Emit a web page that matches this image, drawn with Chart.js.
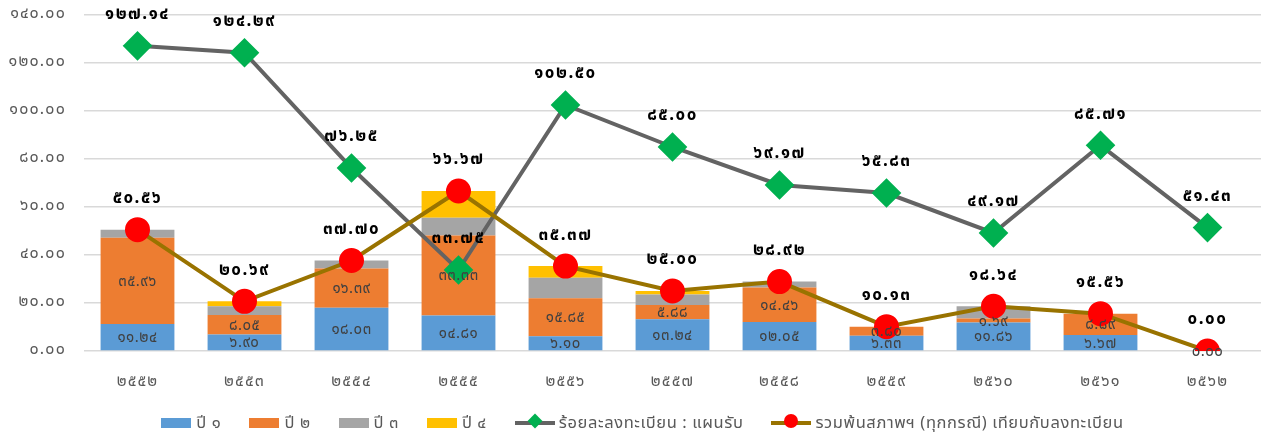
<!DOCTYPE html>
<html>
<head>
<meta charset="utf-8">
<script src="https://cdn.jsdelivr.net/npm/chart.js@4"></script>
<style>
    html, body { margin: 0; padding: 0; background: #ffffff; overflow: hidden; }
    #wrap { position: relative; width: 1261px; height: 437px; }
    #chart { display: block; }
    #legend {
        position: absolute; left: 24px; top: 410px; width: 1237px;
        display: flex; justify-content: center; align-items: center;
        font-family: 'Noto Sans Thai', 'Tahoma', 'DejaVu Sans', sans-serif;
        font-size: 16.5px; letter-spacing: 0.6px; color: #595959;
    }
    .item { display: flex; align-items: center; margin: 0 14px; }
    .box { width: 30px; height: 10px; margin-right: 5px; }
    .line { position: relative; width: 40px; height: 4px; margin-right: 4px; }
    .mark { position: absolute; left: 13px; top: -7px; width: 14px; height: 14px; }
</style>
</head>
<body>
<div id="wrap">
    <canvas id="chart" width="1261" height="437"></canvas>
    <div id="legend"></div>
</div>
<script>
const thaiDigits = ["๐", "๑", "๒", "๓", "๔", "๕", "๖", "๗", "๘", "๙"];

const years = ["๒๕๕๒", "๒๕๕๓", "๒๕๕๔", "๒๕๕๕", "๒๕๕๖", "๒๕๕๗", "๒๕๕๘", "๒๕๕๙", "๒๕๖๐", "๒๕๖๑", "๒๕๖๒"];
const yTickLabels = ["๐.๐๐", "๒๐.๐๐", "๔๐.๐๐", "๖๐.๐๐", "๘๐.๐๐", "๑๐๐.๐๐", "๑๒๐.๐๐", "๑๔๐.๐๐"];

const year1 = [11.24, 6.90, 18.03, 14.81, 6.10, 13.24, 12.05, 6.33, 11.86, 6.67, 0];
const year2 = [35.96, 8.05, 16.39, 33.33, 15.85, 5.88, 14.46, 3.80, 1.69, 8.89, null];
const year3 = [3.36, 3.70, 3.28, 7.41, 8.54, 4.41, 2.41, null, 5.09, null, null];
const year4 = [null, 2.04, null, 11.11, 4.88, 1.47, null, null, null, null, null];
const enrolVsPlan = [127.14, 124.29, 76.25, 33.75, 102.50, 85.00, 69.17, 65.83, 49.17, 85.71, 51.43];
const leftVsEnrol = [50.56, 20.69, 37.70, 66.67, 35.37, 25.00, 28.92, 10.13, 18.64, 15.56, 0.00];

const seriesNames = ["ปี ๑", "ปี ๒", "ปี ๓", "ปี ๔", "ร้อยละลงทะเบียน : แผนรับ", "รวมพ้นสภาพฯ (ทุกกรณี) เทียบกับลงทะเบียน"];

const thaiFont = "'Noto Sans Thai', 'Tahoma', 'DejaVu Sans', sans-serif";

function toThai(value) {
    return value.toFixed(2).replace(/[0-9]/g, (d) => thaiDigits[d]);
}

// wider letters for the axis text, the reference font is a wide one
const spacing = {
    id: "spacing",
    beforeDraw(chart) { chart.ctx.letterSpacing = "1.2px"; },
    afterDraw(chart) { chart.ctx.letterSpacing = "0px"; },
};

// draws the value labels, bars in the middle, lines above the point
const valueLabels = {
    id: "valueLabels",
    afterDatasetsDraw(chart) {
        const ctx = chart.ctx;
        ctx.save();
        ctx.textAlign = "center";
        ctx.textBaseline = "middle";
        chart.data.datasets.forEach((ds, i) => {
            const meta = chart.getDatasetMeta(i);
            if (!ds.showLabels) return;
            meta.data.forEach((el, j) => {
                const v = ds.data[j];
                if (v === null || v === undefined) return;
                if (ds.type === "bar") {
                    const c = el.getCenterPoint();
                    ctx.font = "15px " + thaiFont;
                    ctx.letterSpacing = "0.5px";
                    ctx.fillStyle = "#404040";
                    ctx.fillText(toThai(v), c.x, c.y + 2);
                } else {
                    ctx.font = "bold 17px " + thaiFont;
                    ctx.letterSpacing = "1.5px";
                    ctx.fillStyle = "#000000";
                    ctx.fillText(toThai(v), el.x, el.y - 30);
                }
            });
        });
        ctx.restore();
    },
};

function barSet(label, data, color, labels) {
    return {
        type: "bar",
        label,
        data,
        backgroundColor: color,
        stack: "years",
        order: 3,
        barPercentage: 0.69,
        categoryPercentage: 1,
        showLabels: labels,
    };
}

const ctx = document.getElementById("chart").getContext("2d");
new Chart(ctx, {
    data: {
        labels: years,
        datasets: [
            barSet(seriesNames[0], year1, "#5B9BD5", true),
            barSet(seriesNames[1], year2, "#ED7D31", true),
            barSet(seriesNames[2], year3, "#A5A5A5", false),
            barSet(seriesNames[3], year4, "#FFC000", false),
            {
                type: "line",
                label: seriesNames[4],
                data: enrolVsPlan,
                stack: "plan",
                order: 2,
                borderColor: "#636363",
                borderWidth: 4,
                pointStyle: "rectRot",
                pointRadius: 12,
                pointBackgroundColor: "#00B050",
                pointBorderColor: "#00B050",
                showLabels: true,
            },
            {
                type: "line",
                label: seriesNames[5],
                data: leftVsEnrol,
                stack: "left",
                order: 1,
                borderColor: "#997300",
                borderWidth: 4,
                pointStyle: "circle",
                pointRadius: 10.5,
                pointBackgroundColor: "#FF0000",
                pointBorderColor: "#FF0000",
                showLabels: true,
            },
        ],
    },
    options: {
        responsive: false,
        animation: false,
        layout: {
            autoPadding: false,
            padding: { top: 15, right: 0, bottom: 46, left: 0 },
        },
        plugins: {
            legend: { display: false },
            tooltip: { enabled: false },
        },
        scales: {
            x: {
                stacked: true,
                grid: { display: false },
                border: { display: false },
                ticks: {
                    color: "#595959",
                    font: { family: thaiFont, size: 16 },
                    padding: 14,
                },
                afterFit: (scale) => {
                    scale.height = 40;
                    scale.paddingLeft = 0;
                    scale.paddingRight = 0;
                },
            },
            y: {
                stacked: true,
                min: 0,
                max: 140,
                ticks: {
                    stepSize: 20,
                    color: "#595959",
                    font: { family: thaiFont, size: 16 },
                    padding: 18,
                    callback: (value, index) => yTickLabels[index],
                },
                grid: { color: "#D9D9D9", lineWidth: 1.5, drawTicks: false },
                border: { display: false },
                afterFit: (scale) => {
                    scale.width = 84;
                    scale.paddingTop = 0;
                    scale.paddingBottom = 0;
                },
            },
        },
    },
    plugins: [spacing, valueLabels],
});

// legend below the chart
const legend = document.getElementById("legend");
const legendColors = ["#5B9BD5", "#ED7D31", "#A5A5A5", "#FFC000"];
seriesNames.forEach((name, i) => {
    const item = document.createElement("div");
    item.className = "item";
    if (i < 4) {
        item.innerHTML = `<div class="box" style="background:${legendColors[i]}"></div><span>${name}</span>`;
    } else if (i === 4) {
        item.innerHTML = `<div class="line" style="background:#636363"><div class="mark" style="background:#00B050;transform:rotate(45deg) scale(0.75)"></div></div><span>${name}</span>`;
    } else {
        item.innerHTML = `<div class="line" style="background:#997300"><div class="mark" style="background:#FF0000;border-radius:50%"></div></div><span>${name}</span>`;
    }
    legend.appendChild(item);
});
</script>
</body>
</html>
